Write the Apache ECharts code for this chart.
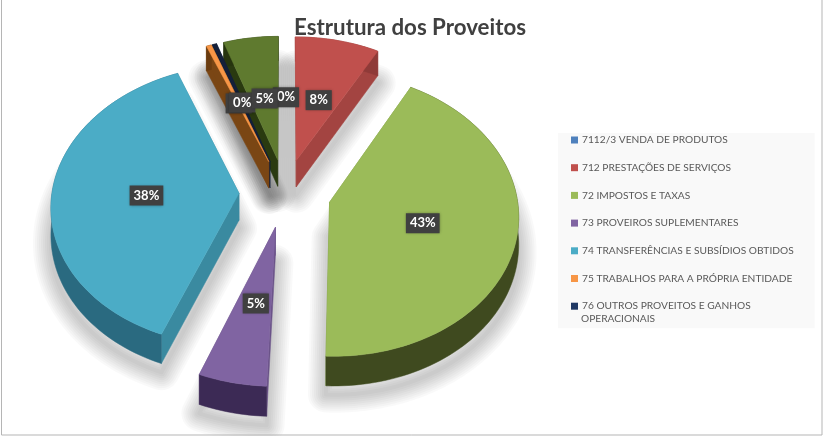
<!DOCTYPE html>
<html><head><meta charset="utf-8">
<style>html,body{margin:0;padding:0;background:#fff}#c{width:823px;height:436px}</style>
<script src="https://cdn.jsdelivr.net/npm/echarts@6/dist/echarts.min.js"></script>
</head><body><div id="c"></div>
<script>
const titleText = 'Estrutura dos Proveitos';
const categories = ['7112/3 VENDA DE PRODUTOS','712 PRESTAÇÕES DE SERVIÇOS','72 IMPOSTOS E TAXAS','73 PROVEIROS SUPLEMENTARES','74 TRANSFERÊNCIAS E SUBSÍDIOS OBTIDOS','75 TRABALHOS PARA A PRÓPRIA ENTIDADE','76 OUTROS PROVEITOS E GANHOS OPERACIONAIS','Outros'];
const values = [0.0, 8.0, 42.6, 5.3, 38.0, 0.49, 0.4, 5.2];
const legendCount = 7;
const topColors = ['#4f81bd','#c0504d','#9bbb59','#8064a2','#4bacc6','#f79646','#14203a','#5f7a2f'];
const legendColors = ['#4f81bd','#c0504d','#9bbb59','#8064a2','#4bacc6','#f79646','#1f3864','#5f7a2f'];
const sideColors = ['#3a6190','#a34441','#7d9a45','#6a5288','#3a8aa0','#7a4614','#111f3a','#2a3a10'];
const wallColors = ['#2c4a6e','#8f3a38','#3f4a1f','#3c2a55','#2a6a80','#6b3c10','#0d1830','#26340e'];

const G = {cx:285, cy:193, R:187, k:0.745, p:0.085, explode:46, depth:27};
function project(wx, wy, h){
  const s = 1/(1 + G.p*wy/G.R);
  return [G.cx + wx*s, G.cy - wy*G.k*s + h*s];
}
const total = values.reduce((a,b)=>a+b,0);
const starts = []; values.reduce((a,v,i)=>{starts[i]=a; return a+v;},0);
function sliceGeom(i){
  const a0 = starts[i]/total*2*Math.PI, a1 = (starts[i]+values[i])/total*2*Math.PI, mid=(a0+a1)/2;
  const ox = Math.sin(mid)*G.explode, oy = Math.cos(mid)*G.explode;
  const n = Math.max(2, Math.ceil((a1-a0)/0.03));
  const arc = [];
  for(let j=0;j<=n;j++){const t=a0+(a1-a0)*j/n; arc.push([ox+Math.sin(t)*G.R, oy+Math.cos(t)*G.R]);}
  return {ox,oy,arc,mid};
}
function poly(points, fill){
  return {type:'polygon', shape:{points}, style:{fill, stroke:fill, lineWidth:0.5}, silent:true};
}
function sliceRender(i){
  return function(){
    if(values[i]<=0) return {type:'group',children:[]};
    const g = sliceGeom(i); const kids=[];
    const apex=[g.ox,g.oy];
    const top=[project(apex[0],apex[1],0)].concat(g.arc.map(p=>project(p[0],p[1],0)));
    const f=g.arc[0], l=g.arc[g.arc.length-1];
    const quad=(a,b)=>[project(a[0],a[1],0),project(b[0],b[1],0),project(b[0],b[1],G.depth),project(a[0],a[1],G.depth)];
    kids.push(poly(quad(apex,f),sideColors[i]));
    kids.push(poly(quad(apex,l),sideColors[i]));
    const strip=g.arc.map(p=>project(p[0],p[1],0)).concat(g.arc.slice().reverse().map(p=>project(p[0],p[1],G.depth)));
    kids.push(poly(strip,wallColors[i]));
    kids.push(poly(top,topColors[i]));
    return {type:'group',children:kids};
  };
}
function shadowRender(){
  const kids=[];
  const h=G.depth+8;
  values.forEach((v,i)=>{
    if(v<=0) return;
    const g=sliceGeom(i);
    const pts=[project(g.ox,g.oy,h)].concat(g.arc.map(p=>project(p[0],p[1],h)));
    for(let half=2;half<=18;half+=2){
      kids.push({type:'polygon',shape:{points:pts},silent:true,style:{fill:'none',stroke:'rgba(0,0,0,0.024)',lineWidth:half*2,lineJoin:'round'}});
    }
  });
  return {type:'group',children:kids};
}
function labelRender(){
  const kids=[];
  values.forEach((v,i)=>{
    const g=sliceGeom(i);
    const p=project(g.ox+Math.sin(g.mid)*G.R*0.5, g.oy+Math.cos(g.mid)*G.R*0.5, 0);
    kids.push({type:'text',silent:true,x:p[0]+1,y:p[1]+2,style:{
      text:Math.round(v/total*100)+'%',align:'center',verticalAlign:'middle',
      font:'bold 13px Lato, sans-serif',fill:'#fff',backgroundColor:'#404040',padding:[4,4,3,4],
      shadowBlur:3,shadowColor:'rgba(0,0,0,0.4)'}});
  });
  return {type:'group',children:kids};
}
const order=[7,6,5,0,1,4,2,3];
const series=[{type:'custom',name:'_shadow',coordinateSystem:'none',z:1,silent:true,data:[[0]],renderItem:shadowRender}];
order.forEach((i,rank)=>series.push({type:'custom',name:categories[i],coordinateSystem:'none',z:2+rank,silent:true,
  itemStyle:{color:legendColors[i]},data:[[values[i]]],renderItem:sliceRender(i)}));
series.push({type:'custom',name:'_labels',coordinateSystem:'none',z:20,silent:true,data:[[0]],renderItem:labelRender});

const legendFont={fontFamily:'Lato',fontSize:10.2,color:'#595959'};
const chart=echarts.init(document.getElementById('c'),null,{renderer:'canvas'});
chart.setOption({
  animation:false, backgroundColor:'#fff',
  title:{text:titleText,left:405,top:12,textAlign:'center',textStyle:{fontFamily:'Lato',fontSize:22.3,fontWeight:'bold',color:'#404040'},z:30},
  legend:{data:categories.slice(0,legendCount),orient:'vertical',left:558,top:133,
    backgroundColor:'#f9f9f9',padding:[0,21,15,13],itemWidth:7,itemHeight:7,itemGap:13.7,icon:'rect',selectedMode:false,
    formatter:n=>n.split(' GANHOS ')[0]+(n.includes(' GANHOS ')?' GANHOS':''),
    textStyle:Object.assign({padding:[0,0,0,-1],lineHeight:14},legendFont)},
  graphic:[
    {type:'text',z:40,left:581,top:314,style:{text:'OPERACIONAIS',font:'10.2px Lato',fill:'#595959'},silent:true},
    {type:'rect',z:50,silent:true,shape:{x:1.5,y:-3,width:820.5,height:438},style:{fill:'none',stroke:'#b5b5b5',lineWidth:1}}
  ],
  series
});
</script></body></html>
